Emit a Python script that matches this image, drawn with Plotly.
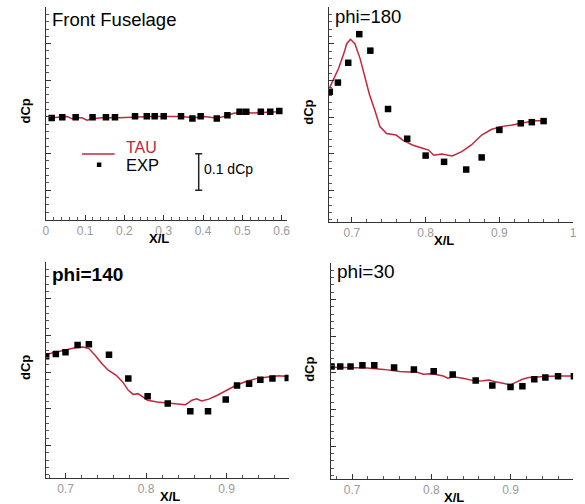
import plotly.graph_objects as go

W, H = 585, 504

# ---------------- data ----------------
# Front Fuselage
ff_exp_x = [0.015, 0.042, 0.076, 0.119, 0.153, 0.176, 0.227, 0.257, 0.277, 0.300,
            0.344, 0.373, 0.394, 0.435, 0.462, 0.493, 0.510, 0.547, 0.571, 0.594]
ff_exp_y = [-0.003, -0.001, -0.001, -0.001, -0.001, -0.001, 0.002, 0.002, 0.002, 0.002,
            0.002, -0.004, 0.002, -0.004, 0.005, 0.014, 0.014, 0.014, 0.014, 0.016]
ff_tau_x = [0.008, 0.034, 0.055, 0.067, 0.080, 0.092, 0.105, 0.118, 0.143, 0.185,
            0.227, 0.269, 0.310, 0.344, 0.378, 0.403, 0.428, 0.445, 0.462, 0.478,
            0.495, 0.529, 0.562, 0.596]
ff_tau_y = [-0.003, 0.000, 0.001, -0.005, -0.002, -0.002, -0.009, -0.005, -0.002, -0.002,
            0.000, 0.001, 0.001, 0.001, -0.002, 0.001, -0.002, -0.001, 0.004, 0.010,
            0.012, 0.011, 0.013, 0.014]

# phi=180
p180_exp_x = [0.670, 0.681, 0.695, 0.710, 0.725, 0.749, 0.775, 0.800, 0.825, 0.855,
              0.876, 0.900, 0.929, 0.944, 0.960]
p180_exp_y = [0.069, 0.094, 0.148, 0.226, 0.181, 0.022, -0.059, -0.105, -0.122, -0.143,
              -0.110, -0.035, -0.017, -0.014, -0.011]
p180_tau_x = [0.670, 0.676, 0.682, 0.689, 0.693, 0.698, 0.704, 0.711, 0.718, 0.724,
              0.731, 0.738, 0.747, 0.760, 0.769, 0.782, 0.796, 0.804, 0.811, 0.822,
              0.836, 0.849, 0.862, 0.876, 0.889, 0.902, 0.916, 0.929, 0.947, 0.960]
p180_tau_y = [0.081, 0.105, 0.133, 0.173, 0.200, 0.212, 0.200, 0.160, 0.110, 0.060,
              0.019, -0.026, -0.045, -0.049, -0.063, -0.076, -0.085, -0.090, -0.104, -0.101,
              -0.106, -0.094, -0.076, -0.049, -0.034, -0.026, -0.022, -0.017, -0.010, -0.010]

# phi=140
p140_exp_x = [0.676, 0.688, 0.700, 0.715, 0.729, 0.754, 0.778, 0.802, 0.827, 0.855,
              0.877, 0.899, 0.913, 0.928, 0.942, 0.957, 0.976]
p140_exp_y = [0.043, 0.049, 0.054, 0.074, 0.076, 0.047, -0.018, -0.066, -0.086, -0.107,
              -0.107, -0.075, -0.037, -0.032, -0.021, -0.018, -0.016]
p140_tau_x = [0.6755, 0.688, 0.700, 0.712, 0.722, 0.729, 0.737, 0.745, 0.753, 0.763,
              0.771, 0.778, 0.784, 0.790, 0.796, 0.802, 0.814, 0.827, 0.839, 0.849,
              0.857, 0.863, 0.869, 0.878, 0.888, 0.900, 0.912, 0.925, 0.937, 0.949,
              0.965, 0.977]
p140_tau_y = [0.048, 0.054, 0.059, 0.066, 0.068, 0.064, 0.045, 0.023, 0.005, -0.009,
              -0.027, -0.050, -0.061, -0.059, -0.068, -0.077, -0.082, -0.084, -0.086, -0.089,
              -0.077, -0.073, -0.079, -0.074, -0.064, -0.050, -0.036, -0.025, -0.018, -0.014,
              -0.010, -0.012]

# phi=30
p30_exp_x = [0.674, 0.685, 0.698, 0.713, 0.728, 0.753, 0.778, 0.803, 0.827, 0.856,
             0.877, 0.900, 0.915, 0.930, 0.944, 0.960, 0.980]
p30_exp_y = [0.017, 0.017, 0.017, 0.020, 0.020, 0.014, 0.009, 0.004, -0.005, -0.021,
             -0.035, -0.039, -0.037, -0.018, -0.013, -0.010, -0.010]
p30_tau_x = [0.673, 0.698, 0.719, 0.740, 0.760, 0.773, 0.781, 0.790, 0.798, 0.806,
             0.815, 0.821, 0.827, 0.840, 0.848, 0.856, 0.865, 0.873, 0.881, 0.890,
             0.900, 0.906, 0.915, 0.923, 0.935, 0.948, 0.965, 0.979]
p30_tau_y = [0.015, 0.014, 0.013, 0.009, 0.003, 0.002, 0.002, -0.004, -0.003, -0.005,
             -0.009, -0.015, -0.011, -0.015, -0.018, -0.023, -0.022, -0.020, -0.025, -0.029,
             -0.033, -0.027, -0.018, -0.013, -0.011, -0.010, -0.009, -0.009]

titles = ["Front Fuselage", "phi=180", "phi=140", "phi=30"]
tick_vals_1 = [0, 0.1, 0.2, 0.3, 0.4, 0.5, 0.6]
tick_text_1 = ["0", "0.1", "0.2", "0.3", "0.4", "0.5", "0.6"]
tick_vals_2 = [0.7, 0.8, 0.9, 1.0]
tick_text_2 = ["0.7", "0.8", "0.9", "1"]
tick_vals_3 = [0.7, 0.8, 0.9]
tick_text_3 = ["0.7", "0.8", "0.9"]

# ---------------- layout helpers ----------------
def fx(px):
    return px / W

def fy(py):
    return 1 - py / H

RED = "#c0283c"
FONT = "Liberation Sans, Arial, sans-serif"

panels = [
    # (x0px, x1px, ytop, ybot, xrange, yrange, tickvals, ticktext)
    (43.3, 287, 7, 220, [0, 0.6125], [-0.281, 0.3], tick_vals_1, tick_text_1),
    (330, 577, 7, 222, [0.669, 1.0], [-0.286, 0.3], tick_vals_2, tick_text_2),
    (43.3, 289, 262, 478, [0.6755, 0.977], [-0.289, 0.3], tick_vals_3, tick_text_3),
    (331.7, 577, 262.7, 479, [0.673, 0.979], [-0.29, 0.3], tick_vals_3, tick_text_3),
]

series = [
    (ff_tau_x, ff_tau_y, ff_exp_x, ff_exp_y),
    (p180_tau_x, p180_tau_y, p180_exp_x, p180_exp_y),
    (p140_tau_x, p140_tau_y, p140_exp_x, p140_exp_y),
    (p30_tau_x, p30_tau_y, p30_exp_x, p30_exp_y),
]

fig = go.Figure()
layout = dict(
    width=W, height=H, margin=dict(l=0, r=0, t=0, b=0),
    paper_bgcolor="white", plot_bgcolor="white", showlegend=False,
    font=dict(family=FONT, color="black"),
)

annotations = []
shapes = []
for i, (p, s) in enumerate(zip(panels, series)):
    x0, x1, yt, yb, xr, yr, tv, tt = p
    n = "" if i == 0 else str(i + 1)
    tx, ty, ex, ey = s
    fig.add_trace(go.Scatter(x=tx, y=ty, mode="lines", line=dict(color=RED, width=1.5),
                             xaxis="x" + n, yaxis="y" + n, name="TAU"))
    fig.add_trace(go.Scatter(x=ex, y=ey, mode="markers",
                             marker=dict(symbol="square", size=6.5, color="black"),
                             xaxis="x" + n, yaxis="y" + n, name="EXP"))
    layout["xaxis" + n] = dict(
        domain=[fx(x0), fx(x1)], range=xr, anchor="y" + n,
        showgrid=False, zeroline=False, showline=True, linecolor="#333", linewidth=1,
        ticks="inside", ticklen=5, tickcolor="#333", tickwidth=1,
        tickvals=tv, ticktext=tt, tickfont=dict(size=12, color="#9a9a9a", family=FONT),
        minor=dict(dtick=0.02, tick0=0, ticks="inside", ticklen=3, tickcolor="#555", showgrid=False),
        fixedrange=True,
    )
    layout["yaxis" + n] = dict(
        domain=[fy(yb), fy(yt)], range=yr, anchor="x" + n,
        showgrid=False, zeroline=False, showline=True, linecolor="#333", linewidth=1,
        ticks="inside", ticklen=5, tickcolor="#333", tickwidth=1,
        dtick=0.1, tick0=0, showticklabels=False,
        minor=dict(dtick=0.02, tick0=0, ticks="inside", ticklen=3, tickcolor="#555", showgrid=False),
        fixedrange=True,
    )
    # axis titles
    annotations.append(dict(text="<b>dCp</b>", xref="paper", yref="paper",
                            x=fx(x0 - 21), y=fy((yt + yb) / 2 - 2), textangle=-90,
                            showarrow=False, font=dict(size=13, family=FONT),
                            xanchor="center", yanchor="middle"))
    annotations.append(dict(text="<b>X/L</b>", xref="paper", yref="paper",
                            x=fx(x0 + (x1 - x0) * 0.47 if i < 2 else x0 + (x1 - x0) * 0.51),
                            y=fy(yb + 18), showarrow=False, font=dict(size=13, family=FONT),
                            xanchor="center", yanchor="middle"))

# panel titles
annotations.append(dict(text="Front Fuselage", xref="paper", yref="paper", x=fx(48), y=fy(20),
                        xanchor="left", yanchor="middle", showarrow=False, font=dict(size=18.5)))
annotations.append(dict(text="phi=180", xref="paper", yref="paper", x=fx(334), y=fy(17),
                        xanchor="left", yanchor="middle", showarrow=False, font=dict(size=18.5)))
annotations.append(dict(text="<b>phi=140</b>", xref="paper", yref="paper", x=fx(48), y=fy(274),
                        xanchor="left", yanchor="middle", showarrow=False, font=dict(size=19)))
annotations.append(dict(text="phi=30", xref="paper", yref="paper", x=fx(336), y=fy(271),
                        xanchor="left", yanchor="middle", showarrow=False, font=dict(size=19)))

# legend (panel 1)
shapes.append(dict(type="line", xref="paper", yref="paper", x0=fx(80), x1=fx(113),
                   y0=fy(154), y1=fy(154), line=dict(color=RED, width=1.5)))
shapes.append(dict(type="rect", xref="paper", yref="paper", x0=fx(95), x1=fx(99.5),
                   y0=fy(167), y1=fy(162.5), fillcolor="black", line=dict(width=0)))
annotations.append(dict(text="TAU", xref="paper", yref="paper", x=fx(122), y=fy(147),
                        xanchor="left", yanchor="middle", showarrow=False,
                        font=dict(size=16, color=RED)))
annotations.append(dict(text="EXP", xref="paper", yref="paper", x=fx(122), y=fy(165),
                        xanchor="left", yanchor="middle", showarrow=False,
                        font=dict(size=16.5, color="black")))

# scale bar 0.1 dCp (data coords of panel 1)
sb_x = 0.389
sb_y0, sb_y1 = -0.2, -0.1
shapes.append(dict(type="line", xref="x", yref="y", x0=sb_x, x1=sb_x, y0=sb_y0, y1=sb_y1,
                   line=dict(color="#222", width=1.5)))
for yy in (sb_y0, sb_y1):
    shapes.append(dict(type="line", xref="x", yref="y", x0=sb_x - 0.009, x1=sb_x + 0.009,
                       y0=yy, y1=yy, line=dict(color="#222", width=1.5)))
annotations.append(dict(text="0.1 dCp", xref="paper", yref="paper", x=fx(201), y=fy(169),
                        xanchor="left", yanchor="middle", showarrow=False,
                        font=dict(size=14, color="black")))

layout["annotations"] = annotations
layout["shapes"] = shapes
fig.update_layout(**layout)
fig.write_html("out.html")
